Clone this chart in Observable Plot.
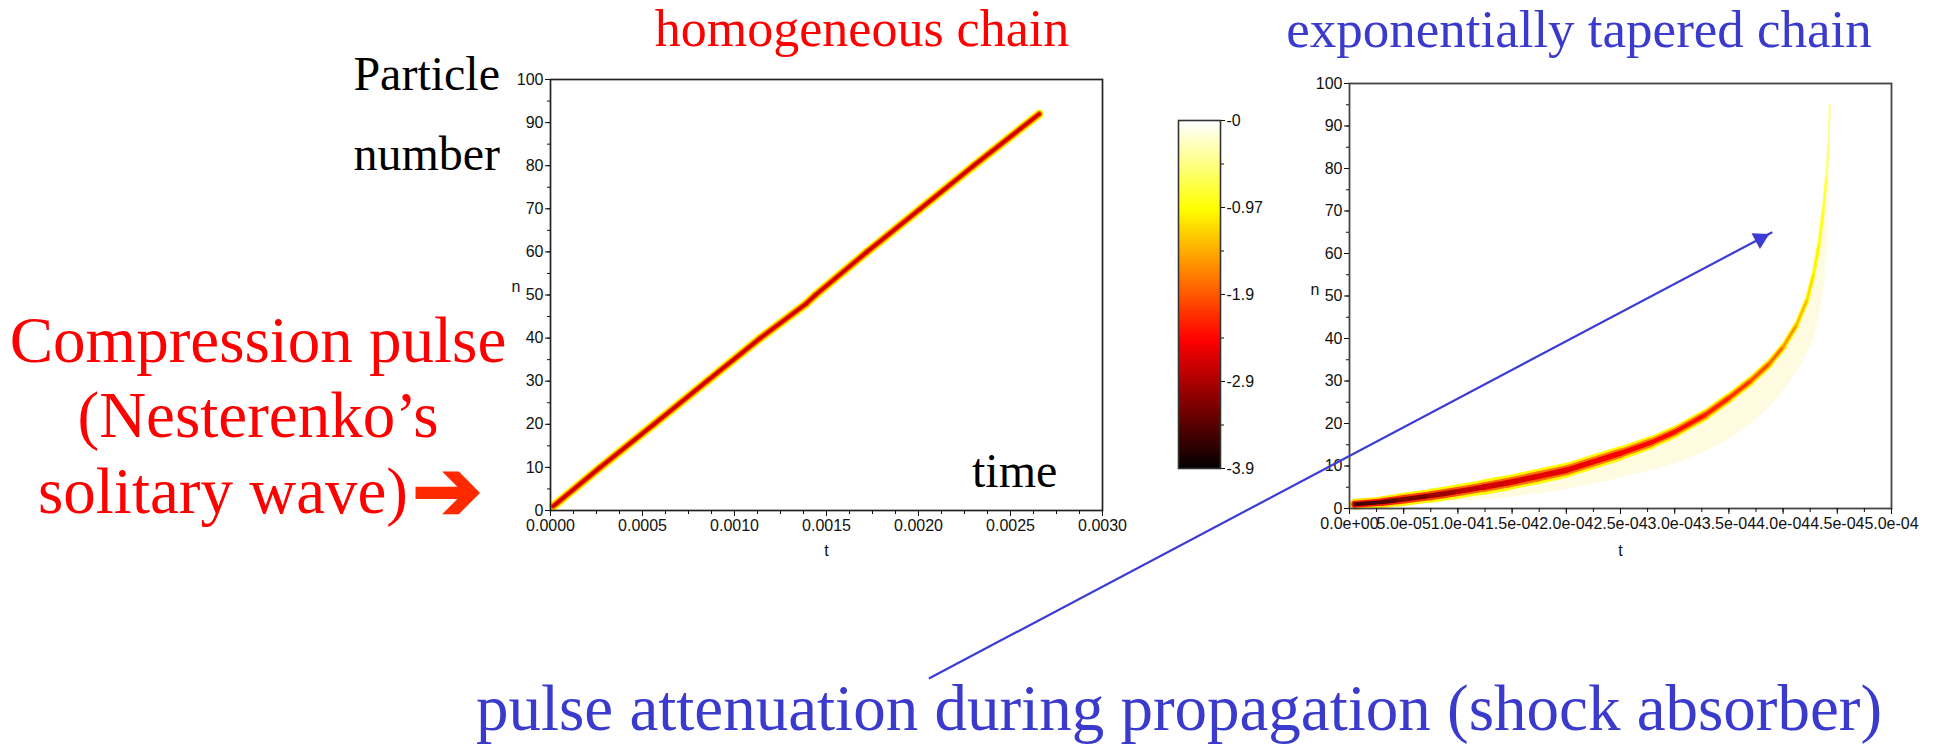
<!DOCTYPE html>
<html><head><meta charset="utf-8">
<script src="https://cdn.jsdelivr.net/npm/d3@7"></script>
<script src="https://cdn.jsdelivr.net/npm/@observablehq/plot@0.6"></script>
<style>
html,body{margin:0;padding:0;background:#fff;}
body{width:1936px;height:750px;position:relative;overflow:hidden;}
.abs{position:absolute;}
.serif{font-family:"Liberation Serif","Times New Roman",serif;line-height:1;white-space:nowrap;}
</style></head><body>
<script>
// ---------------- data ----------------
// homogeneous chain: pulse centre (particle n, time t in s) and colour values along it
const homN    = [1, 10, 20, 30, 40, 48, 50, 60, 70, 80, 92];
const homT    = [0.000015, 0.00027, 0.000562, 0.000850, 0.00114, 0.00139, 0.00144, 0.00172, 0.00201, 0.00230, 0.002656];
const homPeak = [-2.7, -2.7, -2.7, -2.7, -2.7, -2.7, -2.7, -2.7, -2.7, -2.7, -2.6];
const homEdge = [-1.0, -1.0, -1.0, -1.0, -1.0, -1.0, -1.0, -1.0, -1.0, -1.0, -1.0];

// exponentially tapered chain: pulse centre, trailing haze edge, colour values
const taperN    = [1, 1.5, 2, 3, 4, 5, 6, 7.5, 9, 11, 13, 15.5, 18, 22, 26, 30, 34, 38, 43, 49, 55, 62, 70, 78, 86, 95];
const taperT    = [0.05e-4, 0.3e-4, 0.45e-4, 0.75e-4, 1.0e-4, 1.23e-4, 1.45e-4, 1.73e-4, 2.0e-4, 2.25e-4, 2.5e-4, 2.78e-4, 3.0e-4, 3.28e-4, 3.5e-4, 3.7e-4, 3.87e-4, 4.0e-4, 4.12e-4, 4.22e-4, 4.28e-4, 4.33e-4, 4.37e-4, 4.40e-4, 4.42e-4, 4.43e-4];
const taperHaze = [0.3e-4, 0.7e-4, 1.2e-4, 1.6e-4, 1.9e-4, 2.1e-4, 2.3e-4, 2.55e-4, 2.8e-4, 3.05e-4, 3.25e-4, 3.45e-4, 3.6e-4, 3.8e-4, 3.95e-4, 4.07e-4, 4.17e-4, 4.25e-4, 4.32e-4, 4.36e-4, 4.39e-4, 4.41e-4, 4.42e-4, 4.43e-4, 4.43e-4, 4.43e-4];
const taperPeak = [-3.5, -3.4, -3.2, -3.0, -2.8, -2.7, -2.65, -2.6, -2.55, -2.5, -2.45, -2.4, -2.35, -2.25, -2.15, -2.0, -1.85, -1.6, -1.4, -1.2, -1.05, -0.95, -0.8, -0.6, -0.45, -0.25];
const taperEdge = [-1.1, -1.1, -1.05, -1.0, -1.0, -1.0, -1.0, -1.0, -1.0, -1.0, -1.0, -1.0, -1.0, -1.0, -1.0, -1.0, -0.95, -0.9, -0.85, -0.8, -0.75, -0.65, -0.55, -0.4, -0.3, -0.15];

// axes
const homXTicks   = [0, 0.0005, 0.0010, 0.0015, 0.0020, 0.0025, 0.0030];
const nTicks      = [0, 10, 20, 30, 40, 50, 60, 70, 80, 90, 100];
const taperXTicks = [0, 0.00005, 0.0001, 0.00015, 0.0002, 0.00025, 0.0003, 0.00035, 0.0004, 0.00045, 0.0005];
const cbTicks     = [0, -0.975, -1.95, -2.925, -3.9];
const cbLabels    = ["-0", "-0.97", "-1.9", "-2.9", "-3.9"];
const cbMinor     = [-0.4875, -1.4625, -2.4375, -3.4125];

// annotation arrow (in tapered-chain coordinates)
const arrowT = [-0.000388, 0.000390];
const arrowN = [-40, 65];

// ---------------- helpers ----------------
const clamp = x => Math.max(0, Math.min(1, x));
const hot = t => d3.rgb(255 * clamp(t / 0.375), 255 * clamp((t - 0.375) / 0.375), 255 * clamp((t - 0.75) / 0.25)).formatHex();
const colorScale = {type: "linear", domain: [-3.9, 0], interpolate: hot};
const FS = 16;
const tickFont = {fontFamily: "'Liberation Sans', Arial, sans-serif", fontSize: FS + "px", color: "#111", background: "none"};

function band(N, T, peak, edge, widths, midK, coreK) {
  const seg = d3.range(N.length - 1);
  const base = {x1: i => T[i], y1: i => N[i], x2: i => T[i + 1], y2: i => N[i + 1], strokeLinecap: "round"};
  return [
    Plot.link(seg, {...base, stroke: i => edge[i], strokeWidth: i => widths[i]}),
    Plot.link(seg, {...base, stroke: i => (edge[i] + peak[i]) / 2, strokeWidth: i => widths[i] * midK}),
    Plot.link(seg, {...base, stroke: i => peak[i], strokeWidth: i => widths[i] * coreK})
  ];
}
function place(el, left, top) {
  el.style.position = "absolute"; el.style.left = left + "px"; el.style.top = top + "px";
  document.body.appendChild(el);
}
function label(text, x, baseline, size, color, align) {
  const d = document.createElement("div");
  d.className = "serif abs";
  d.textContent = text;
  d.style.fontSize = size + "px";
  d.style.color = color;
  d.style.top = (baseline - 0.8375 * size) + "px";
  if (align === "center") { d.style.left = x + "px"; d.style.transform = "translateX(-50%)"; }
  else if (align === "right") { d.style.right = (1936 - x) + "px"; }
  else d.style.left = x + "px";
  document.body.appendChild(d);
  return d;
}

// ---------------- homogeneous chain ----------------
const homWidths = homN.slice(0, -1).map(() => 9);
const left = Plot.plot({
  width: 632, height: 506,
  marginLeft: 50, marginRight: 30, marginTop: 15, marginBottom: 60,
  style: tickFont,
  x: {domain: [0, 0.003], label: null},
  y: {domain: [0, 100], label: null},
  color: colorScale,
  marks: [
    ...band(homN, homT, homPeak, homEdge, homWidths, 0.66, 0.38),
    Plot.frame({stroke: "#222", strokeWidth: 1.7}),
    Plot.axisX({ticks: d3.range(0, 0.0030001, 0.000125), tickSize: 4, tickFormat: () => "", label: null}),
    Plot.axisX({ticks: homXTicks, tickSize: 6, tickPadding: 3, tickFormat: d3.format(".4f"), fontSize: FS, label: null}),
    Plot.axisY({ticks: d3.range(0, 101, 5), tickSize: 3, tickFormat: () => "", label: null}),
    Plot.axisY({ticks: nTicks, tickSize: 5, tickPadding: 2, tickFormat: d3.format("d"), fontSize: FS, label: null}),
    Plot.text(["t"], {text: d => d, frameAnchor: "bottom", dy: 45, fontSize: FS}),
    Plot.text(["n"], {text: d => d, frameAnchor: "left", dx: -39, dy: -8, fontSize: FS})
  ]
});
place(left, 500, 64);

// ---------------- colour bar ----------------
const cbSamples = d3.range(0, 200).map(i => -3.9 + (i + 0.5) * 3.9 / 200);
const cbLabelMap = new Map(cbTicks.map((v, i) => [v, cbLabels[i]]));
const cbar = Plot.plot({
  width: 100, height: 372,
  marginLeft: 8, marginRight: 50, marginTop: 12, marginBottom: 12,
  style: tickFont,
  x: {domain: [0, 1], axis: null},
  y: {domain: [-3.9, 0], label: null},
  color: colorScale,
  marks: [
    Plot.rect(cbSamples, {x1: 0, x2: 1, y1: d => Math.max(-3.9, d - 0.03), y2: d => Math.min(0, d + 0.03), fill: d => d, shapeRendering: "crispEdges"}),
    Plot.frame({stroke: "#333", strokeWidth: 1.6}),
    Plot.axisY({anchor: "right", ticks: cbMinor, tickSize: 3, tickFormat: () => "", label: null}),
    Plot.axisY({anchor: "right", ticks: cbTicks, tickSize: 4, tickPadding: 2, tickFormat: d => cbLabelMap.get(d), fontSize: FS, label: null})
  ]
});
place(cbar, 1170, 108);

// ---------------- exponentially tapered chain ----------------
const expFmt = x => { const [m, e] = x.toExponential(1).split("e"); return m + "e" + e[0] + String(Math.abs(+e)).padStart(2, "0"); };
const taperWidths = [11, 12, 13, 14, 14, 15, 15, 15, 14, 14, 13, 12, 11, 10, 9, 8, 7, 6, 5, 4.5, 4, 3.5, 3, 2.5, 2.2];
const right = Plot.plot({
  width: 647, height: 500,
  marginLeft: 60, marginRight: 45, marginTop: 15, marginBottom: 60,
  style: {...tickFont, overflow: "visible"},
  x: {domain: [0, 0.0005], label: null},
  y: {domain: [0, 100], label: null},
  color: colorScale,
  marks: [
    Plot.areaX(d3.range(taperN.length), {y: i => taperN[i], x1: i => taperT[i], x2: i => taperHaze[i], fill: "#fff6b4", fillOpacity: 0.4, curve: "catmull-rom"}),
    ...band(taperN, taperT, taperPeak, taperEdge, taperWidths, 0.66, 0.36),
    Plot.frame({stroke: "#444", strokeWidth: 1.8}),
    Plot.axisX({ticks: d3.range(0, 0.0005001, 0.000025), tickSize: 4, tickFormat: () => "", label: null}),
    Plot.axisX({ticks: taperXTicks, tickSize: 6, tickPadding: 3, tickFormat: expFmt, fontSize: FS, label: null}),
    Plot.axisY({ticks: d3.range(0, 101, 5), tickSize: 3, tickFormat: () => "", label: null}),
    Plot.axisY({ticks: nTicks, tickSize: 5, tickPadding: 2, tickFormat: d3.format("d"), fontSize: FS, label: null}),
    Plot.text(["t"], {text: d => d, frameAnchor: "bottom", dy: 47, fontSize: FS}),
    Plot.text(["n"], {text: d => d, frameAnchor: "left", dx: -39, dy: -6, fontSize: FS}),
    Plot.link([0], {x1: arrowT[0], y1: arrowN[0], x2: arrowT[1], y2: arrowN[1], stroke: "#3c3cd4", strokeWidth: 2.2}),
    Plot.dot([0], {x: arrowT[1], y: arrowN[1], dx: -12, dy: 6.5, symbol: "triangle2", r: 8.5, fill: "#3c3cd4", rotate: 62})
  ]
});
place(right, 1289, 68);

// ---------------- slide text ----------------
label("homogeneous chain", 862, 47, 52, "#ff0000", "center");
label("exponentially tapered chain", 1579, 47, 53, "#3a3acc", "center");
label("Particle", 500, 90, 48, "#000", "right");
label("number", 500, 170, 48, "#000", "right");
label("time", 972, 487, 48, "#000", "left");
label("Compression pulse", 258, 362, 65, "#ff0000", "center");
label("(Nesterenko\u2019s", 258, 437, 65, "#ff0000", "center");
label("solitary wave)", 38, 513, 65, "#ff0000", "left");
const arr = label("\u2794", 412, 518, 84, "#ff2a00", "left");
arr.style.fontFamily = "'DejaVu Sans', sans-serif";
arr.style.webkitTextStroke = "2.5px #ff2a00";
label("pulse attenuation during propagation (shock absorber)", 1179, 730, 65, "#3a3acc", "center");
</script>
</body></html>
